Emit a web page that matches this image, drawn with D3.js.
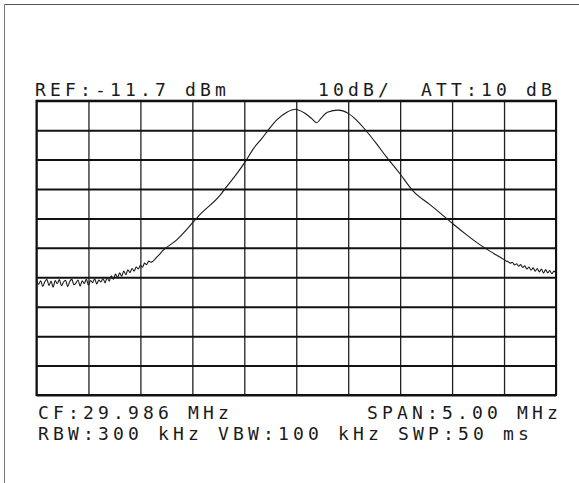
<!DOCTYPE html>
<html>
<head>
<meta charset="utf-8">
<script src="https://cdn.jsdelivr.net/npm/d3@7"></script>
<style>
  html, body { margin: 0; padding: 0; background: #fff; }
  svg text { font-family: "DejaVu Sans Mono", "Liberation Mono", monospace; fill: #1a1a1a; }
</style>
</head>
<body>
<svg id="chart" width="579" height="483"></svg>
<script>
// ---- Data ----
// Frequency offset from CF (MHz) and measured level (dBm)
const freqMHz = [
  -2.50,-2.48,-2.46,-2.44,-2.42,-2.40,-2.38,-2.36,-2.34,-2.32,-2.30,-2.28,-2.26,-2.24,-2.22,-2.20,-2.18,-2.16,-2.14,-2.12,
  -2.10,-2.08,-2.06,-2.04,-2.02,-2.00,-1.98,-1.96,-1.94,-1.92,-1.90,-1.88,-1.86,-1.84,
  -1.82,-1.80,-1.78,-1.76,-1.74,-1.72,-1.70,-1.68,-1.66,-1.64,-1.62,-1.60,-1.58,-1.56,-1.54,-1.52,-1.50,-1.48,-1.46,-1.44,-1.42,-1.40,
  -1.34,-1.28,-1.15,-0.99,-0.93,-0.73,-0.67,-0.57,-0.49,-0.41,-0.33,-0.27,-0.19,-0.09,-0.01,
  0.08,0.15,0.197,0.24,0.30,0.405,0.50,0.58,0.66,0.77,0.87,1.00,1.13,1.29,1.42,1.51,1.64,1.77,1.90,2.00,
  2.02,2.04,2.06,2.08,2.10,2.12,2.14,2.16,2.18,2.20,2.22,2.24,2.26,2.28,2.30,2.32,2.34,2.36,2.38,2.40,2.42,2.44,2.46,2.48,2.50
];
const levelDbm = [
  -72.6,-74.1,-72.9,-74.8,-73.2,-72.4,-74.5,-73.0,-75.1,-72.8,-73.9,-72.5,-74.6,-73.3,-72.7,-74.9,-73.1,-72.4,-74.2,-73.6,
  -72.6,-74.7,-72.9,-73.8,-72.3,-74.4,-72.8,-73.5,-72.2,-74.0,-72.6,-73.3,-72.1,-73.6,
  -71.8,-73.0,-71.2,-72.4,-70.6,-71.9,-70.2,-71.3,-69.6,-70.8,-69.2,-70.1,-68.7,-69.6,-68.2,-68.9,-67.6,-68.3,-66.9,-67.4,-66.2,-66.6,
  -64.8,-62.5,-59.0,-52.9,-50.5,-43.7,-40.9,-36.4,-32.4,-27.9,-24.5,-21.7,-18.3,-15.6,-14.6,
  -15.9,-17.8,-19.2,-17.6,-15.6,-14.9,-16.0,-18.3,-21.4,-26.2,-30.9,-36.6,-42.6,-47.1,-50.9,-53.6,-57.3,-60.7,-63.6,-65.7,
  -66.2,-66.4,-66.9,-66.6,-67.5,-67.1,-67.9,-67.4,-68.4,-67.8,-68.9,-68.2,-69.3,-68.5,-69.6,-68.7,-69.9,-68.9,-70.3,-69.1,-70.2,-69.4,-70.5,-69.6,-70.3
];

// Screen settings
const refLevel = -11.7;      // dBm, top of screen
const dbPerDiv = 10;
const spanMHz = 5.0;
const cfMHz = 29.986;
const xDivs = 10, yDivs = 10;

// Annotation texts
const topLeftText = "REF:-11.7 dBm";
const topMidText = "10dB/";
const topRightText = "ATT:10 dB";
const bottomLine1Left = "CF:29.986 MHz";
const bottomLine1Right = "SPAN:5.00 MHz";
const bottomLine2 = "RBW:300 kHz VBW:100 kHz SWP:50 ms";

// ---- Drawing ----
const svg = d3.select("#chart");
const plot = { left: 36.5, right: 556, top: 100.7, bottom: 395 };

const x = d3.scaleLinear().domain([-spanMHz / 2, spanMHz / 2]).range([plot.left, plot.right]);
const y = d3.scaleLinear().domain([refLevel - dbPerDiv * yDivs, refLevel]).range([plot.bottom, plot.top]);

// outer scan frame
svg.append("line").attr("x1", 4.5).attr("x2", 579).attr("y1", 4.5).attr("y2", 4.5)
  .attr("stroke", "#555").attr("stroke-width", 1);
svg.append("line").attr("x1", 4.5).attr("x2", 4.5).attr("y1", 4.5).attr("y2", 483)
  .attr("stroke", "#777").attr("stroke-width", 1);

// grid
const xTicks = d3.range(0, xDivs + 1).map(i => -spanMHz / 2 + i * spanMHz / xDivs);
const yTicks = d3.range(0, yDivs + 1).map(i => refLevel - i * dbPerDiv);

const xAxis = d3.axisBottom(x).tickValues(xTicks).tickSize(-(plot.bottom - plot.top)).tickFormat("");
const gx = svg.append("g").attr("transform", `translate(0,${plot.bottom})`).call(xAxis);
gx.select(".domain").remove();
gx.selectAll(".tick line").attr("stroke", "#222").attr("stroke-width", 1.3);

const yAxis = d3.axisLeft(y).tickValues(yTicks).tickSize(-(plot.right - plot.left)).tickFormat("");
const gy = svg.append("g").attr("transform", `translate(${plot.left},0)`).call(yAxis);
gy.select(".domain").remove();
gy.selectAll(".tick line").attr("stroke", "#111").attr("stroke-width", 2);

// border
svg.append("rect").attr("x", plot.left).attr("y", plot.top)
  .attr("width", plot.right - plot.left).attr("height", plot.bottom - plot.top)
  .attr("fill", "none").attr("stroke", "#111").attr("stroke-width", 2);

// trace
const line = d3.line()
  .x((d, i) => x(freqMHz[i]))
  .y(d => y(d))
  .curve(d3.curveMonotoneX);
svg.append("path").datum(levelDbm)
  .attr("d", line)
  .attr("fill", "none").attr("stroke", "#1a1a1a").attr("stroke-width", 1.1);

// texts
const fs = 18, ls = 15 - 0.602 * 18;
function txt(s, xx, yy) {
  svg.append("text").attr("x", xx).attr("y", yy)
    .attr("font-size", fs).attr("letter-spacing", ls).text(s);
}
txt(topLeftText, 35, 96);
txt(topMidText, 318, 96);
txt(topRightText, 421, 96);
txt(bottomLine1Left, 38, 419);
txt(bottomLine1Right, 367, 419);
txt(bottomLine2, 38, 440);
</script>
</body>
</html>
